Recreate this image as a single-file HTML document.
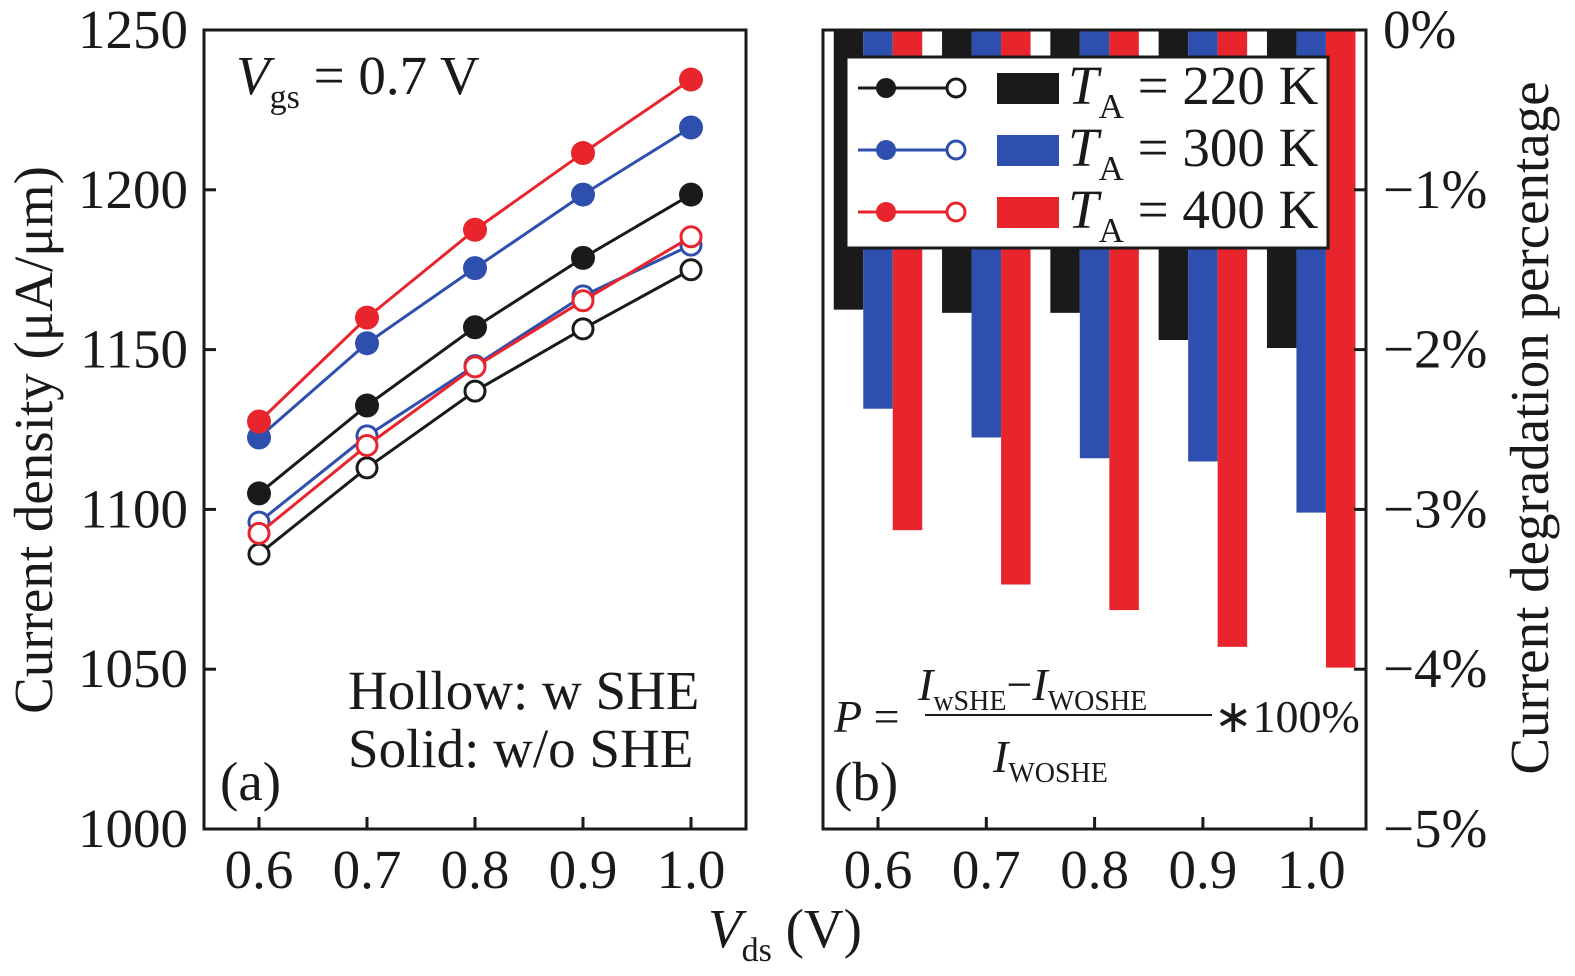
<!DOCTYPE html>
<html><head><meta charset="utf-8"><style>
body{margin:0;background:#fff;}
svg{display:block;font-family:"Liberation Serif",serif;}
</style></head><body>
<svg id="chart" width="1575" height="976" viewBox="0 0 1575 976" xmlns="http://www.w3.org/2000/svg">
<g id="left"></g>
<g id="right"></g>
</svg>
<script>
const xCats = [0.6, 0.7, 0.8, 0.9, 1.0];
const xTickLabels = ["0.6","0.7","0.8","0.9","1.0"];
const yTicksA = [1000, 1050, 1100, 1150, 1200, 1250];
const solid220 = [1105, 1132.5, 1157, 1178.7, 1198.5];
const solid300 = [1122.5, 1152, 1175.5, 1198.5, 1219.5];
const solid400 = [1127.5, 1160, 1187.5, 1211.5, 1234.5];
const hollow220 = [1086, 1113, 1137, 1156.5, 1175];
const hollow300 = [1096, 1123, 1145, 1166.8, 1182.7];
const hollow400 = [1092.5, 1120, 1144.6, 1165.3, 1185.3];
const yTicksB = [0, -1, -2, -3, -4, -5];
const yTickLabelsB = ["0%","\u22121%","\u22122%","\u22123%","\u22124%","\u22125%"];
const deg220 = [-1.75, -1.77, -1.77, -1.94, -1.99];
const deg300 = [-2.37, -2.55, -2.68, -2.70, -3.02];
const deg400 = [-3.13, -3.47, -3.63, -3.86, -3.99];

const NS="http://www.w3.org/2000/svg";
function mk(parent,tag,attrs,text){const e=document.createElementNS(NS,tag);for(const k in attrs)e.setAttribute(k,attrs[k]);if(text!==undefined)e.textContent=text;parent.appendChild(e);return e;}
const BLK="#1a1a1a",BLU="#2f4fae",RED="#e8252d";
const FS=55;
const L=document.getElementById('left'),R=document.getElementById('right');

// Panel A
const ax={x0:204,x1:746,y0:30,y1:829};
const xA=v=>259+(v-0.6)/0.1*108;
const yA=v=>ax.y1-(v-1000)/250*(ax.y1-ax.y0);
let fr=mk(L,'rect',{x:ax.x0,y:ax.y0,width:ax.x1-ax.x0,height:ax.y1-ax.y0,fill:'none',stroke:BLK,'stroke-width':3});


yTicksA.forEach(v=>{
 const y=yA(v);
 mk(L,'line',{x1:ax.x0,x2:ax.x0+12,y1:y,y2:y,stroke:BLK,'stroke-width':3});
 const t=mk(L,'text',{x:188,y:y+18,'text-anchor':'end','font-size':FS,fill:BLK},String(v));
 
 
});
xCats.forEach((v,i)=>{
 const x=xA(v);
 mk(L,'line',{x1:x,x2:x,y1:ax.y1,y2:ax.y1-12,stroke:BLK,'stroke-width':3});
 const t=mk(L,'text',{x:x,y:888,'text-anchor':'middle','font-size':FS,fill:BLK},xTickLabels[i]);
 
 
});
function series(vals,color,filled,name){
 const g=mk(L,'g',{});
 
 
 mk(g,'polyline',{points:vals.map((v,i)=>xA(xCats[i])+','+yA(v)).join(' '),fill:'none',stroke:color,'stroke-width':3});
 vals.forEach((v,i)=>{
  const c=mk(g,'circle',{cx:xA(xCats[i]),cy:yA(v),r:filled?12:10,fill:filled?color:'#fff',stroke:color,'stroke-width':filled?0:3});
  
  
 });
}
series(hollow220,BLK,false,'series-220k-with-she');
series(hollow300,BLU,false,'series-300k-with-she');
series(hollow400,RED,false,'series-400k-with-she');
series(solid220,BLK,true,'series-220k-without-she');
series(solid300,BLU,true,'series-300k-without-she');
series(solid400,RED,true,'series-400k-without-she');

// Panel B
const bx={x0:823,x1:1366,y0:30,y1:829};
const xB=i=>878+i*108.3;
const yB=v=>bx.y0+(-v)/5*(bx.y1-bx.y0);
const bw=29.5;
[[deg220,BLK,-1,'bar-220k'],[deg300,BLU,0,'bar-300k'],[deg400,RED,1,'bar-400k']].forEach(([arr,col,off,nm])=>{
 arr.forEach((v,i)=>{
  const x=xB(i)+off*bw-bw/2;
  const r=mk(R,'rect',{x:x,y:yB(0),width:bw,height:yB(v)-yB(0),fill:col});
  
  
 });
});
let fr2=mk(R,'rect',{x:bx.x0,y:bx.y0,width:bx.x1-bx.x0,height:bx.y1-bx.y0,fill:'none',stroke:BLK,'stroke-width':3});


yTicksB.forEach((v,i)=>{
 const y=yB(v);
 mk(R,'line',{x1:bx.x1,x2:bx.x1-12,y1:y,y2:y,stroke:BLK,'stroke-width':3});
 const t=mk(R,'text',{x:1383,y:y+18,'font-size':FS,fill:BLK},yTickLabelsB[i]);
 
 
});
xCats.forEach((v,i)=>{
 const x=xB(i);
 mk(R,'line',{x1:x,x2:x,y1:bx.y1,y2:bx.y1-12,stroke:BLK,'stroke-width':3});
 const t=mk(R,'text',{x:x,y:888,'text-anchor':'middle','font-size':FS,fill:BLK},xTickLabels[i]);
 
 
});
</script>
<svg style="position:absolute;left:0;top:0" width="1575" height="976" xmlns="http://www.w3.org/2000/svg">
<g font-family="Liberation Serif, serif" fill="#1a1a1a">
<text x="236" y="94" font-size="55"><tspan font-style="italic">V</tspan><tspan font-size="34" dy="14">gs</tspan><tspan dy="-14"> = 0.7 V</tspan></text>
<text x="348" y="709" font-size="55">Hollow: w SHE</text>
<text x="348" y="767" font-size="55">Solid: w/o SHE</text>
<text x="220" y="800" font-size="55">(a)</text>
<text x="834" y="800" font-size="55">(b)</text>
<text transform="translate(52,440) rotate(-90)" text-anchor="middle" font-size="55">Current density (μA/μm)</text>
<text transform="translate(1548,428) rotate(-90)" text-anchor="middle" font-size="55">Current degradation percentage</text>
<text x="708" y="947" font-size="55"><tspan font-style="italic">V</tspan><tspan font-size="34" dy="14">ds</tspan><tspan dy="-14"> (V)</tspan></text>
<g>
<text x="834" y="732" font-size="46"><tspan font-style="italic">P</tspan> =</text>
<text x="918" y="700" font-size="46"><tspan font-style="italic">I</tspan><tspan font-size="28" dy="10">wSHE</tspan><tspan dy="-10">−</tspan><tspan font-style="italic">I</tspan><tspan font-size="28" dy="10">WOSHE</tspan></text>
<line x1="925" y1="715" x2="1212" y2="715" stroke="#1a1a1a" stroke-width="2"/>
<text x="993" y="772" font-size="46"><tspan font-style="italic">I</tspan><tspan font-size="28" dy="10">WOSHE</tspan></text>
<text x="1214" y="732" font-size="46">∗100%</text>
</g>
<g>
<rect x="846" y="57" width="482" height="191" fill="#fff" stroke="#1a1a1a" stroke-width="3"/>
<g>
<line x1="858" y1="88" x2="965" y2="88" stroke="#1a1a1a" stroke-width="3"/>
<circle cx="886" cy="88" r="10" fill="#1a1a1a"/><circle cx="956" cy="88" r="9" fill="#fff" stroke="#1a1a1a" stroke-width="3"/>
<rect x="997" y="73" width="62" height="31" fill="#1a1a1a"/>
<text x="1068" y="104" font-size="55"><tspan font-style="italic">T</tspan><tspan font-size="35" dy="14">A</tspan><tspan dy="-14"> = 220 K</tspan></text>
</g>
<g>
<line x1="858" y1="150" x2="965" y2="150" stroke="#2f4fae" stroke-width="3"/>
<circle cx="886" cy="150" r="10" fill="#2f4fae"/><circle cx="956" cy="150" r="9" fill="#fff" stroke="#2f4fae" stroke-width="3"/>
<rect x="997" y="135" width="62" height="31" fill="#2f4fae"/>
<text x="1068" y="166" font-size="55"><tspan font-style="italic">T</tspan><tspan font-size="35" dy="14">A</tspan><tspan dy="-14"> = 300 K</tspan></text>
</g>
<g>
<line x1="858" y1="212" x2="965" y2="212" stroke="#e8252d" stroke-width="3"/>
<circle cx="886" cy="212" r="10" fill="#e8252d"/><circle cx="956" cy="212" r="9" fill="#fff" stroke="#e8252d" stroke-width="3"/>
<rect x="997" y="197" width="62" height="31" fill="#e8252d"/>
<text x="1068" y="228" font-size="55"><tspan font-style="italic">T</tspan><tspan font-size="35" dy="14">A</tspan><tspan dy="-14"> = 400 K</tspan></text>
</g>
</g>
</g>
</svg>
</body></html>
